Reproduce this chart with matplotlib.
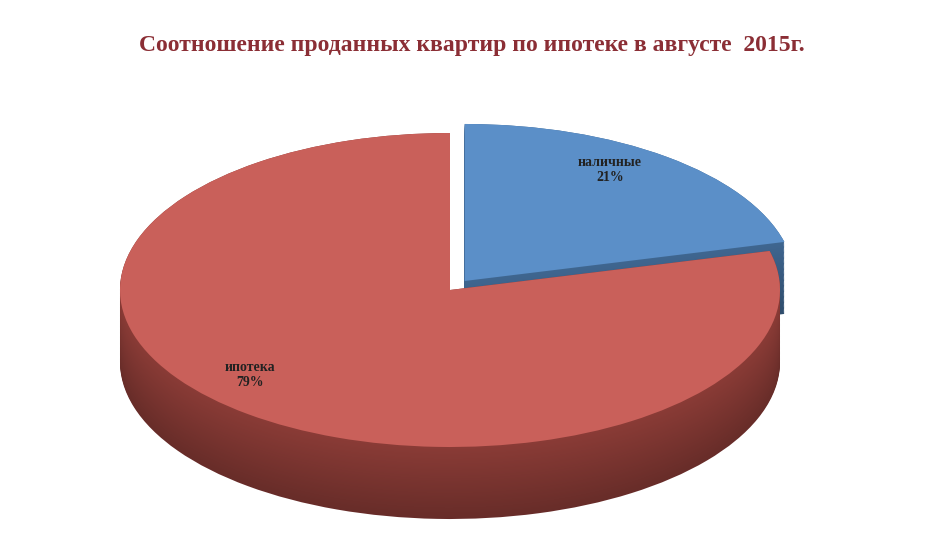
import matplotlib
matplotlib.use("Agg")
import matplotlib.pyplot as plt
import numpy as np

labels = ["наличные", "ипотека"]
values = [21, 79]
title = "Соотношение проданных квартир по ипотеке в августе  2015г."
top_colors = ["#5b8fc8", "#c9605a"]
side_colors = ["#3f6690", "#8a3b36"]

fig = plt.figure(figsize=(9.44, 5.46), dpi=100)
ax = fig.add_axes([0, 0, 1, 1])
s = 157 / 330

cx = 450
cy = (546 - 290) / s
depth = 72 / s
R = 330
explode = [24, 0]

for i, d in enumerate(np.linspace(depth, 0, 60)):
    f = 0.75 + 0.25 * i / 59
    cols = [tuple(min(1, c * f) for c in matplotlib.colors.to_rgb(sc)) for sc in side_colors]
    ax.pie(values, colors=cols, startangle=90, counterclock=False, explode=explode,
           radius=R, center=(cx, cy - d), frame=True)
ax.pie(values, colors=top_colors, startangle=90, counterclock=False, explode=explode,
       radius=R, center=(cx, cy), frame=True)
ax.set_aspect("auto")
ax.set_xlim(0, 944)
ax.set_ylim(0, 546 / s)
ax.axis("off")

fnt = dict(family="Liberation Serif", fontweight="bold", fontsize=10, color="#222222", ha="center", va="center")
ax.text(610, (546 - 170) / s, f"{labels[0]}\n{values[0]}%", **fnt)
ax.text(250, (546 - 375) / s, f"{labels[1]}\n{values[1]}%", **fnt)
fig.text(0.5, 1 - 45 / 546, title, family="Liberation Serif", fontweight="bold",
         fontsize=17, color="#8b2e35", ha="center", va="center")
fig.savefig("out.png", dpi=100)
